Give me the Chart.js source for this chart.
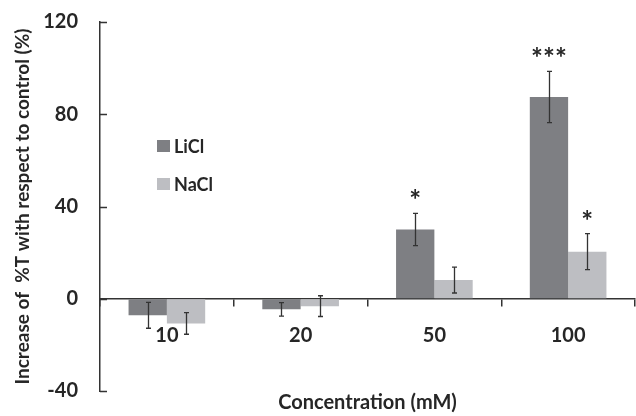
<!DOCTYPE html>
<html><head><meta charset="utf-8">
<script src="https://cdn.jsdelivr.net/npm/chart.js@4/dist/chart.umd.min.js"></script>
<style>html,body{margin:0;padding:0;background:#fff;}canvas{display:block}</style>
</head><body>
<canvas id="c" width="636" height="416"></canvas>
<script>
const categories = ['10', '20', '50', '100'];
const seriesNames = ['LiCl', 'NaCl'];
const liclValues = [-7.2, -4.6, 30.0, 87.5];
const liclErrors = [5.6, 2.9, 7.0, 11.1];
const naclValues = [-10.7, -3.2, 8.1, 20.4];
const naclErrors = [4.7, 4.5, 5.6, 7.8];
const liclSignif = ['', '', '*', '***'];
const naclSignif = ['', '', '', '*'];
const yTicks = [-40, 0, 40, 80, 120];
const yTitle = 'Increase of  %T with respect to control (%)';
const xTitle = 'Concentration (mM)';

const FONT = 'Lato';
const TXT = '#262626';
const AX = '#333333';
const colors = ['#7e7f83', '#bdbec2'];
const errors = [liclErrors, naclErrors];
const signif = [liclSignif, naclSignif];

const errorBarPlugin = {
  id: 'errorBars',
  afterDatasetsDraw(chart) {
    const ctx = chart.ctx, y = chart.scales.y;
    chart.data.datasets.forEach((ds, i) => {
      const meta = chart.getDatasetMeta(i);
      meta.data.forEach((bar, j) => {
        const v = ds.data[j], e = errors[i][j];
        const yt = y.getPixelForValue(v + e), yb = y.getPixelForValue(v - e);
        const x = Math.round(bar.x) + 0.5;
        ctx.save();
        ctx.strokeStyle = AX; ctx.lineWidth = 1.3;
        ctx.beginPath();
        ctx.moveTo(x, yt); ctx.lineTo(x, yb);
        ctx.moveTo(x - 2.5, yt); ctx.lineTo(x + 2.5, yt);
        ctx.moveTo(x - 2.5, yb); ctx.lineTo(x + 2.5, yb);
        ctx.stroke();
        const s = signif[i][j];
        if (s) {
          ctx.fillStyle = TXT;
          ctx.font = 'bold 28px ' + FONT;
          ctx.textAlign = 'center';
          ctx.textBaseline = 'alphabetic';
          const m = ctx.measureText(s);
          const cy = yt - 19;
          ctx.fillText(s, bar.x, cy + (m.actualBoundingBoxAscent - m.actualBoundingBoxDescent) / 2);
        }
        ctx.restore();
      });
    });
  }
};

const extrasPlugin = {
  id: 'extras',
  afterDraw(chart) {
    const ctx = chart.ctx, y = chart.scales.y;
    ctx.save();
    ctx.strokeStyle = AX; ctx.lineWidth = 1.5;
    ctx.beginPath();
    yTicks.forEach(v => {
      const p = Math.round(y.getPixelForValue(v)) + 0.5;
      ctx.moveTo(y.right, p); ctx.lineTo(y.right + 7, p);
    });
    ctx.stroke();
    const lx = 157, ly = [140, 178];
    chart.data.datasets.forEach((ds, i) => {
      ctx.fillStyle = ds.backgroundColor;
      ctx.fillRect(lx, ly[i], 13, 12);
      ctx.fillStyle = TXT;
      ctx.font = 'bold 18px ' + FONT;
      ctx.textAlign = 'left';
      ctx.textBaseline = 'alphabetic';
      ctx.fillText(ds.label, lx + 17, ly[i] + 12.5);
    });
    ctx.restore();
  }
};

new Chart(document.getElementById('c'), {
  type: 'bar',
  data: {
    labels: categories,
    datasets: [
      { label: seriesNames[0], data: liclValues, backgroundColor: colors[0], borderWidth: 0,
        categoryPercentage: 0.573, barPercentage: 1.0 },
      { label: seriesNames[1], data: naclValues, backgroundColor: colors[1], borderWidth: 0,
        categoryPercentage: 0.573, barPercentage: 1.0 }
    ]
  },
  options: {
    responsive: false,
    devicePixelRatio: 1,
    animation: false,
    layout: { padding: { left: 0, right: 1, top: 22, bottom: 0 } },
    plugins: {
      legend: { display: false },
      tooltip: { enabled: false },
      title: {
        display: true, position: 'bottom', fullSize: false, text: xTitle, color: TXT,
        font: { family: FONT, size: 20, weight: 'bold' }, padding: { top: 0, bottom: 1 }
      }
    },
    scales: {
      x: {
        position: { y: 0 },
        z: 1,
        offset: true,
        grid: { display: true, offset: true, drawOnChartArea: false, drawTicks: true,
                tickLength: 7, tickColor: AX, tickWidth: 1.5, color: AX, lineWidth: 1.5 },
        border: { display: true, color: AX, width: 1.5 },
        ticks: { color: TXT, padding: 18, font: { family: FONT, size: 20, weight: 'bold' } }
      },
      y: {
        min: -40, max: 120,
        z: 1,
        afterBuildTicks: s => { s.ticks = yTicks.map(v => ({ value: v })); },
        afterFit: s => { s.width = 100; },
        grid: { display: true, drawOnChartArea: false, drawTicks: true, tickLength: 22,
                tickColor: 'rgba(0,0,0,0)', color: AX },
        border: { display: true, color: AX, width: 1.5 },
        ticks: { color: TXT, padding: 0, font: { family: FONT, size: 20, weight: 'bold' } },
        title: { display: true, text: yTitle, color: TXT,
                 font: { family: FONT, size: 19, weight: 'bold' }, padding: { top: 11, bottom: 0 } }
      }
    }
  },
  plugins: [errorBarPlugin, extrasPlugin]
});
</script>
</body></html>
